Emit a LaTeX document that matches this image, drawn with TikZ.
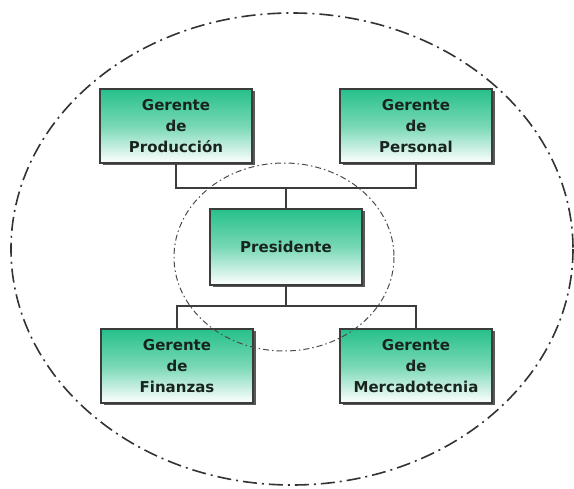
\documentclass[tikz,border=0pt]{standalone}
\usepackage{fontspec}
\setmainfont{DejaVu Sans}
\usetikzlibrary{shadows}
\definecolor{boxgreen}{RGB}{38,192,138}
\definecolor{txtdark}{RGB}{24,36,30}
\definecolor{linegray}{RGB}{60,60,60}
\tikzset{
  orgbox/.style={draw=linegray, line width=1.1pt, rectangle,
    minimum width=152pt, minimum height=74pt, inner sep=0pt,
    top color=boxgreen, bottom color=white, middle color=boxgreen!62!white,
    align=center, text=txtdark,
    font=\fontsize{15}{21}\selectfont\bfseries,
    drop shadow={shadow xshift=2.5pt, shadow yshift=-2.5pt, fill=black!65, opacity=1}},
  conn/.style={draw=linegray, line width=1.2pt},
  outerring/.style={draw=black!80, line width=1.6pt, dash pattern=on 14pt off 5pt on 2pt off 5pt},
  innerring/.style={draw=black!70, line width=1pt, dash pattern=on 6pt off 3pt on 1.5pt off 3pt}
}
\begin{document}
\begin{tikzpicture}[x=1pt,y=-1pt]
\useasboundingbox[fill=white] (0,0) rectangle (574,489);
\draw[outerring] (292,249) ellipse [x radius=281, y radius=236];
\node[orgbox] (prod) at (176,126) {Gerente\\de\\Producción};
\node[orgbox] (pers) at (416,126) {Gerente\\de\\Personal};
\node[orgbox, minimum height=76pt] (pres) at (286,247) {Presidente};
\node[orgbox] (fin) at (177,366) {Gerente\\de\\Finanzas};
\node[orgbox] (mer) at (416,366) {Gerente\\de\\Mercadotecnia};
\coordinate (t) at (286,188);
\coordinate (b) at (286,306);
\draw[conn] (prod.south) |- (t) -| (pers.south);
\draw[conn] (pres.north) -- (t);
\draw[conn] (pres.south) -- (b);
\draw[conn] (fin.north) |- (b) -| (mer.north);
\draw[innerring] (284,257) ellipse [x radius=110, y radius=94];
\end{tikzpicture}
\end{document}
